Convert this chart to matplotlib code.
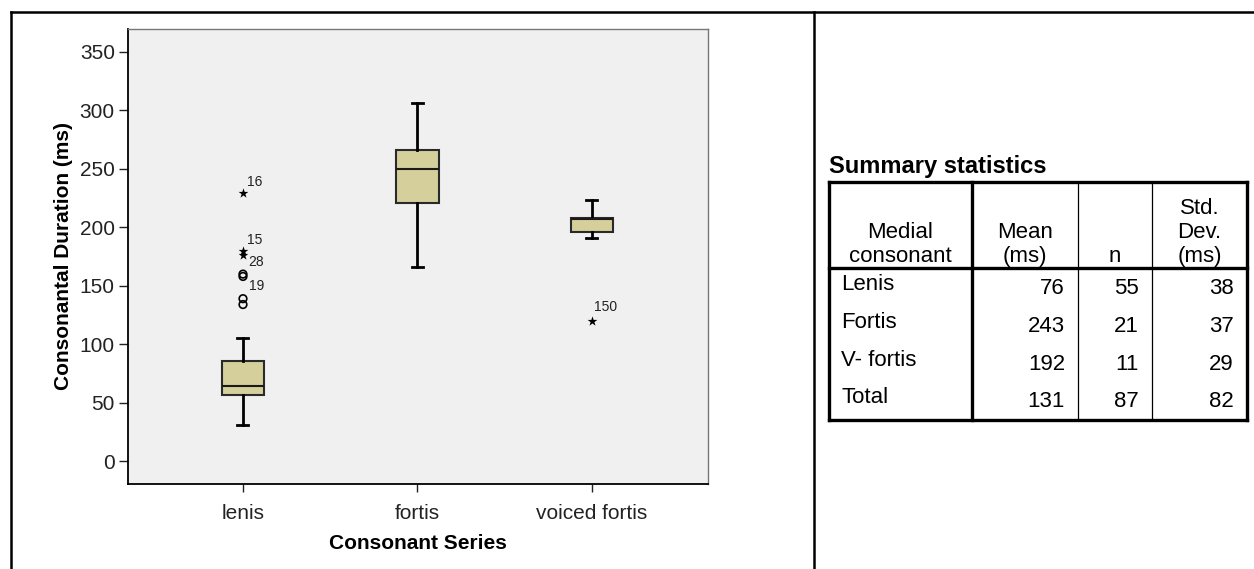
import matplotlib.pyplot as plt
from matplotlib.lines import Line2D

plt.rcParams['font.family'] = ['Liberation Sans', 'DejaVu Sans']

# box plot summary (ms)
groups = ['lenis', 'fortis', 'voiced fortis']
whisker_low = [31, 166, 191]
q1 = [57, 221, 196]
medians = [64, 250, 207]
q3 = [86, 266, 208]
whisker_high = [105, 306, 223]

# extreme values (stars) and outliers (circles): group position, value, case number
extreme_pos = [1, 1, 1, 3]
extreme_val = [229, 180, 176, 120]
extreme_lab = ['16', '15', '28', '150']
outlier_pos = [1, 1, 1, 1]
outlier_val = [160, 158, 139, 134]
outlier_lab = ['', '19', '', '']

# summary statistics table
table_rows = ['Lenis', 'Fortis', 'V- fortis', 'Total']
mean_ms = [76, 243, 192, 131]
n_count = [55, 21, 11, 87]
std_ms = [38, 37, 29, 82]
table_head = ['Medial\nconsonant', 'Mean\n(ms)', 'n', 'Std.\nDev.\n(ms)']

W, H = 1254, 569
fig = plt.figure(figsize=(W / 100, H / 100), dpi=100)
fig.patch.set_facecolor('white')

ax = fig.add_axes([128 / W, 1 - 484 / H, 580 / W, 455 / H])
ax.set_facecolor('#F0F0F0')

stats = []
for i in range(len(groups)):
    stats.append(dict(label=groups[i], whislo=whisker_low[i], q1=q1[i], med=medians[i],
                      q3=q3[i], whishi=whisker_high[i]))
ax.bxp(stats, positions=[1, 2, 3], widths=0.244, patch_artist=True, showfliers=False,
       boxprops=dict(facecolor='#D4CF9B', edgecolor='#2a2a2a', linewidth=1.5),
       medianprops=dict(color='#1a1a1a', linewidth=1.5),
       whiskerprops=dict(color='black', linewidth=2),
       capprops=dict(color='black', linewidth=2), capwidths=0.063)

ax.scatter(extreme_pos, extreme_val, marker='*', s=55, color='black', linewidths=0, zorder=3)
ax.scatter(outlier_pos, outlier_val, marker='o', s=30, facecolors='none',
           edgecolors='black', linewidths=1.2, zorder=3)

ext_offsets = [(3, 8), (3, 8), (4, -5), (1.5, 10)]
for x, y, lab, off in zip(extreme_pos, extreme_val, extreme_lab, ext_offsets):
    ax.annotate(lab, (x, y), xytext=off, textcoords='offset points',
                ha='left', va='center', fontsize=10, color='#222222')
for x, y, lab in zip(outlier_pos, outlier_val, outlier_lab):
    if lab:
        ax.annotate(lab, (x, y), xytext=(4, -7), textcoords='offset points',
                    ha='left', va='center', fontsize=10, color='#222222')

ax.set_xlim(0.341, 3.665)
ax.set_ylim(-19.4, 369.5)
ax.set_yticks(range(0, 351, 50))
ax.set_xticks([1, 2, 3])
ax.set_xticklabels(groups)
ax.tick_params(axis='y', length=6.5, width=1, pad=3, labelsize=15, colors='#222222')
ax.tick_params(axis='x', length=5.5, width=1, pad=9, labelsize=15, colors='#222222')
ax.set_ylabel('Consonantal Duration (ms)', fontsize=15, fontweight='bold', labelpad=5)
ax.set_xlabel('Consonant Series', fontsize=15, fontweight='bold', labelpad=8)
for side in ['left', 'bottom']:
    ax.spines[side].set_color('black')
    ax.spines[side].set_linewidth(1.3)
for side in ['top', 'right']:
    ax.spines[side].set_color('#777777')
    ax.spines[side].set_linewidth(1)

# overlay in pixel coordinates for the frame and the table
tax = fig.add_axes([0, 0, 1, 1])
tax.set_xlim(0, W)
tax.set_ylim(H, 0)
tax.axis('off')
tax.patch.set_visible(False)

tax.add_line(Line2D([11, W], [12, 12], color='black', lw=1.8))
tax.add_line(Line2D([11, 11], [12, H], color='black', lw=1.8))
tax.add_line(Line2D([814, 814], [12, H], color='black', lw=1.8))

col_edges = [829, 972, 1078, 1152, 1247]
t_top, t_head, row_h = 181.5, 268.3, 37.9
t_bot = t_head + row_h * len(table_rows)

tax.text(col_edges[0], 166, 'Summary statistics', fontsize=17, fontweight='bold',
         ha='left', va='center')

thick, thin = 2.4, 0.9
tax.add_line(Line2D([col_edges[0], col_edges[-1]], [t_top, t_top], color='black', lw=thick))
tax.add_line(Line2D([col_edges[0], col_edges[-1]], [t_bot, t_bot], color='black', lw=thick))
tax.add_line(Line2D([col_edges[0], col_edges[-1]], [t_head, t_head], color='black', lw=thick))
for j, xe in enumerate(col_edges):
    lw = thick if j in (0, 1, len(col_edges) - 1) else thin
    tax.add_line(Line2D([xe, xe], [t_top, t_bot], color='black', lw=lw))

for j, head in enumerate(table_head):
    xc = (col_edges[j] + col_edges[j + 1]) / 2
    tax.text(xc, t_head - 1, head, fontsize=16, ha='center', va='bottom',
             multialignment='center', linespacing=1.2)

for i, lab in enumerate(table_rows):
    yc = t_head + row_h * (i + 0.5)
    tax.text(col_edges[0] + 12, yc - 3, lab, fontsize=16, ha='left', va='center')
    for j, val in enumerate([mean_ms[i], n_count[i], std_ms[i]]):
        tax.text(col_edges[j + 2] - 13, yc + 1, str(val), fontsize=16, ha='right', va='center')

fig.savefig('out.png', dpi=100)
